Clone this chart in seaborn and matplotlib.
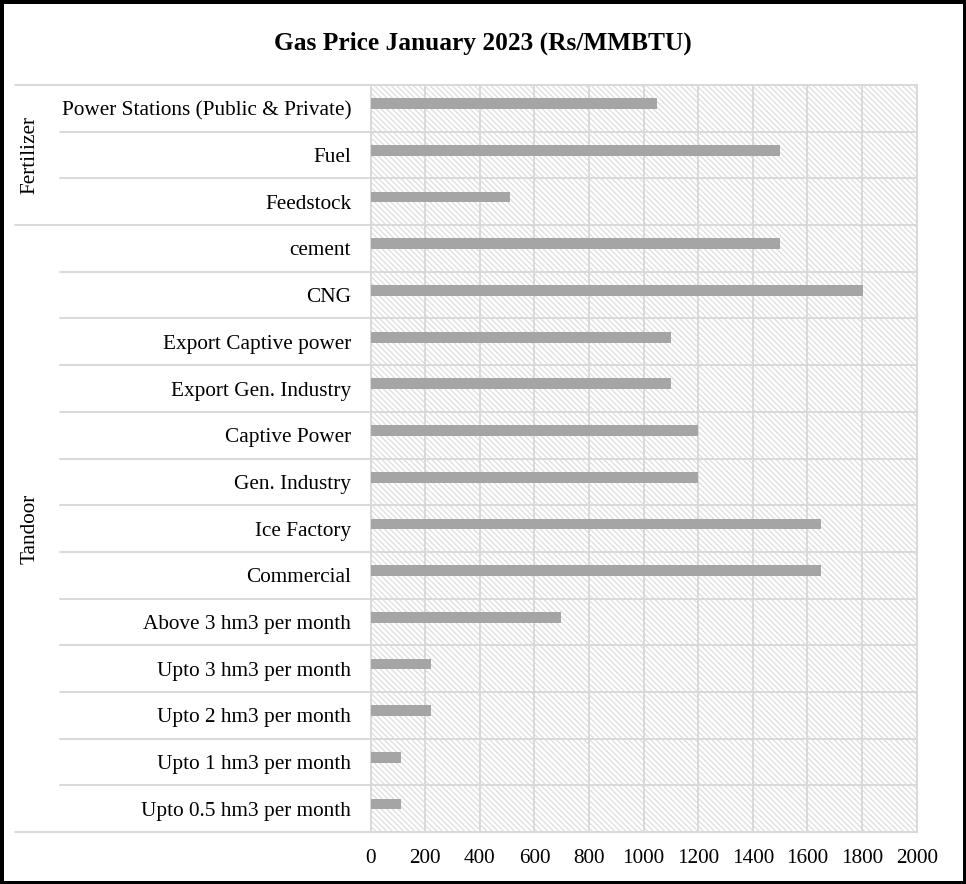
import numpy as np
import seaborn as sns
import matplotlib.pyplot as plt
from matplotlib.patches import Rectangle
from matplotlib.transforms import blended_transform_factory

# data (top to bottom as shown)
categories = ["Power Stations (Public & Private)", "Fuel", "Feedstock",
              "cement", "CNG", "Export Captive power", "Export Gen. Industry",
              "Captive Power", "Gen. Industry", "Ice Factory", "Commercial",
              "Above 3 hm3 per month", "Upto 3 hm3 per month",
              "Upto 2 hm3 per month", "Upto 1 hm3 per month",
              "Upto 0.5 hm3 per month"]
prices = [1050, 1500, 510, 1500, 1805, 1100, 1100, 1200, 1200, 1650, 1650,
          697, 220, 220, 110, 110]
groups = ["Fertilizer", "Tandoor"]
group_sizes = [3, 13]
x_ticks = list(range(0, 2001, 200))

sns.set_style("white")
plt.rcParams['font.family'] = ['Liberation Serif', 'DejaVu Serif']
plt.rcParams['text.color'] = 'black'
plt.rcParams['xtick.color'] = 'black'
plt.rcParams['ytick.color'] = 'black'
plt.rcParams['hatch.linewidth'] = 0.8

fs = 15.3
grid_col = "#d9d9d9"
fig = plt.figure(figsize=(9.66, 8.84), dpi=100, linewidth=5, edgecolor="black")
ax = fig.add_axes([0.3837, 0.0588, 0.5652, 0.845])

# hatched plot background
ax.add_patch(Rectangle((0, 0), 1, 1, transform=ax.transAxes, facecolor="white",
                       edgecolor="#dadada", hatch="\\\\\\\\\\\\", linewidth=0, zorder=0))

sns.barplot(x=prices, y=categories, color="#a5a5a5", saturation=1, width=0.23,
            orient="h", ax=ax, zorder=3, linewidth=0)

d = 0.1  # bars sit slightly above the row centre
n = len(categories)
ax.set_ylim(n - 0.5 + d, -0.5 + d)
ax.set_xlim(0, 2000)
ax.set_xticks(x_ticks)
ax.set_yticks(np.arange(n) + d, categories)
ax.tick_params(axis="both", length=0, labelsize=fs)
ax.tick_params(axis="x", pad=12)
ax.tick_params(axis="y", pad=14)
ax.set_xlabel("")
ax.set_ylabel("")
for x in x_ticks:
    ax.axvline(x, color=grid_col, lw=1.4, zorder=1)
for s in ax.spines.values():
    s.set_color(grid_col)
    s.set_linewidth(1.4)

# row separators reaching into the label column
tr = blended_transform_factory(fig.transFigure, ax.transData)
bounds = np.cumsum([0] + group_sizes)
for i in range(n + 1):
    y = i - 0.5 + d
    x0 = 0.0155 if i in bounds else 0.062
    ax.plot([x0, 0.9489], [y, y], transform=tr, color=grid_col, lw=1.4,
            clip_on=False, zorder=1)

# group labels
for g, a, b in zip(groups, bounds[:-1], bounds[1:]):
    ax.text(0.031, (a + b - 1) / 2 + d, g, transform=tr, rotation=90,
            ha="center", va="center", fontsize=fs)

fig.suptitle("Gas Price January 2023 (Rs/MMBTU)", y=0.951, va="center",
             fontsize=18.3, fontweight="bold")

fig.savefig("out.png", dpi=100)
